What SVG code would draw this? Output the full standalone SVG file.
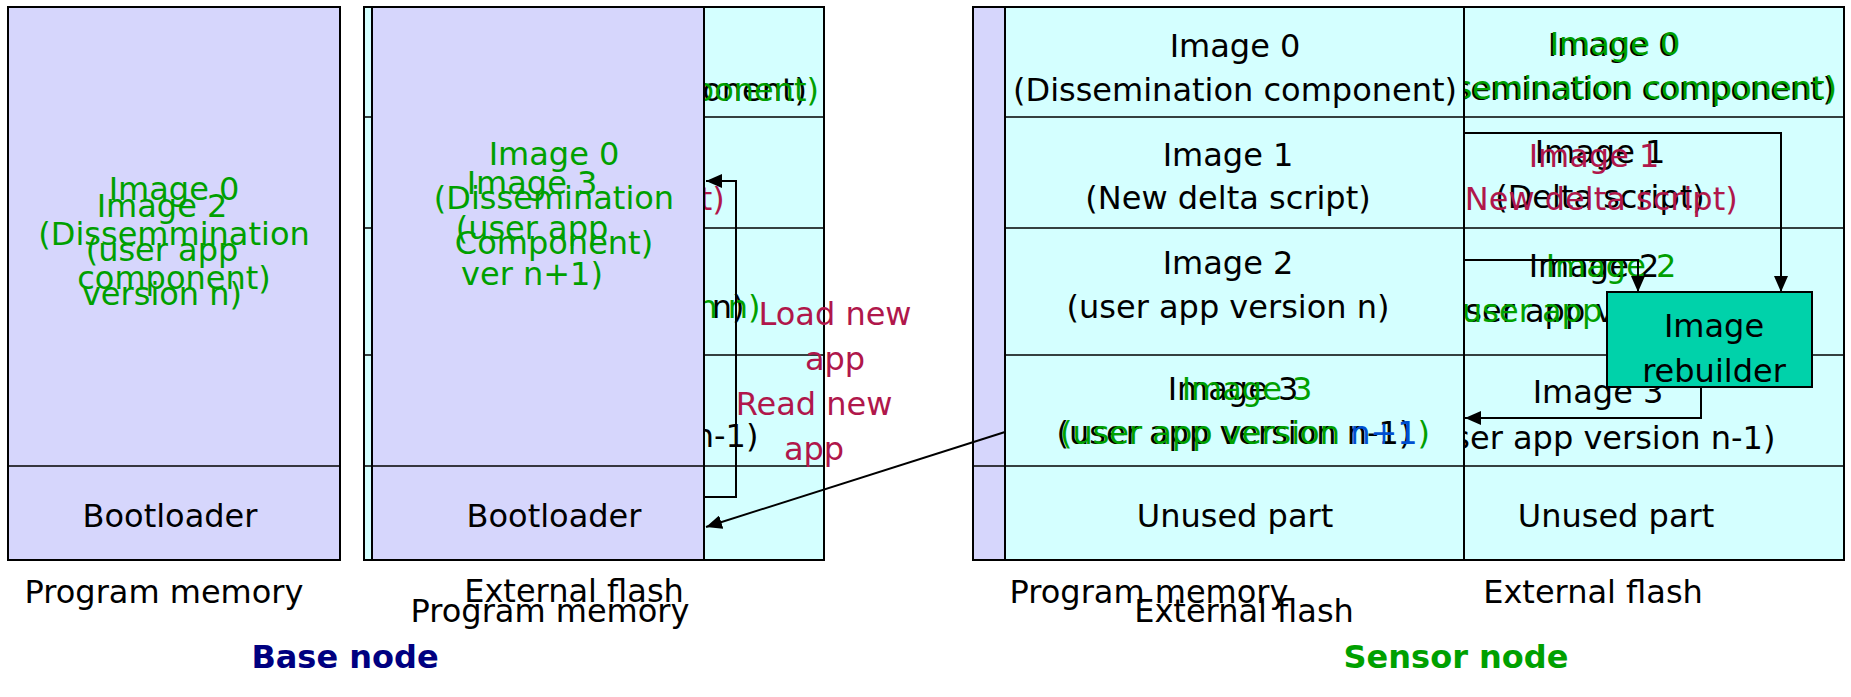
<svg xmlns="http://www.w3.org/2000/svg" width="1851" height="697" viewBox="0 0 1851 697">
  <style>
    text { font-family: "DejaVu Sans", Verdana, sans-serif; font-size: 32px; text-anchor: middle; }
    .k { fill: #000000; }
    .g { fill: #00A000; }
    .r { fill: #B0174B; }
    .b { fill: #0050D0; }
    .lav { fill: #D6D6FC; stroke: #000000; stroke-width: 2; }
    .cy { fill: #D4FFFF; stroke: #000000; stroke-width: 2; }
    .row { stroke: #000000; stroke-width: 1.5; fill: none; }
    .conn { stroke: #000000; stroke-width: 2; fill: none; }
    .title { font-weight: bold; }
  </style>
  <defs>
    <marker id="arrow" viewBox="0 0 16 14" refX="16" refY="7" markerWidth="16" markerHeight="14" markerUnits="userSpaceOnUse" orient="auto">
      <path d="M0,0 L16,7 L0,14 z" fill="#000000"/>
    </marker>
    <!-- slot texts of the base external flash stay inside its column -->
    <clipPath id="base-flash-clip">
      <rect x="373" y="7" width="451" height="553"/>
    </clipPath>
  </defs>

  <rect width="1851" height="697" fill="#FFFFFF"/>

  <!-- Base node: program memory -->
  <g id="base-program-memory">
    <rect class="lav" x="8" y="7" width="332" height="553"/>
    <line class="row" x1="8" y1="466" x2="340" y2="466"/>
    <text class="g" x="174" y="200">Image 0</text>
    <text class="g" x="174" y="245">(Dissemmination</text>
    <text class="g" x="174" y="289">component)</text>
    <text class="g" x="162" y="217">Image 2</text>
    <text class="g" x="162" y="261">(user app</text>
    <text class="g" x="162" y="305">version n)</text>
    <text class="k" x="170" y="527">Bootloader</text>
  </g>

  <!-- Base node: external flash (image slots behind the loaded program memory) -->
  <g id="base-external-flash">
    <rect class="cy" x="364" y="7" width="460" height="553"/>
    <line class="row" x1="364" y1="117" x2="824" y2="117"/>
    <line class="row" x1="364" y1="228" x2="824" y2="228"/>
    <line class="row" x1="364" y1="355" x2="824" y2="355"/>
    <g clip-path="url(#base-flash-clip)">
      <text class="k" x="585" y="101">(Dissemination component)</text>
      <text class="g" x="597" y="101">(Dissemination component)</text>
      <text class="r" x="582" y="210">(New delta script)</text>
      <text class="k" x="583" y="318">(user app version n)</text>
      <text class="g" x="599" y="318">(user app version n)</text>
      <text class="k" x="581" y="447">(user app version n-1)</text>
    </g>
  </g>

  <g id="base-program-memory-copy">
    <rect class="lav" x="372" y="7" width="332" height="553"/>
    <text class="g" x="554" y="165">Image 0</text>
    <text class="g" x="554" y="209">(Dissemination</text>
    <text class="g" x="554" y="254">Component)</text>
    <text class="g" x="532" y="194">Image 3</text>
    <text class="g" x="532" y="239">(user app</text>
    <text class="g" x="532" y="285">ver n+1)</text>
    <line class="row" x1="364" y1="466" x2="824" y2="466"/>
    <text class="k" x="554" y="527">Bootloader</text>
  </g>

  <!-- Sensor node -->
  <g id="sensor-node-frame">
    <rect class="lav" x="973" y="7" width="871" height="553"/>
  </g>

  <g id="sensor-external-flash">
    <rect class="cy" x="1464" y="7" width="380" height="553"/>
    <line class="row" x1="1464" y1="117" x2="1844" y2="117"/>
    <line class="row" x1="1464" y1="228" x2="1844" y2="228"/>
    <line class="row" x1="1464" y1="355" x2="1844" y2="355"/>
    <line class="row" x1="1464" y1="466" x2="1844" y2="466"/>
    <text class="k" x="1613" y="56">Image 0</text>
    <text class="k" x="1613" y="100">(Dissemination component)</text>
    <text class="g" x="1615" y="55">Image 0</text>
    <text class="g" x="1615" y="99">(Dissemination component)</text>
    <text class="k" x="1600" y="163">Image 1</text>
    <text class="k" x="1600" y="208">(Delta script)</text>
    <text class="r" x="1594" y="167">Image 1</text>
    <text class="r" x="1595" y="210">(New delta script)</text>
    <text class="k" x="1594" y="277">Image 2</text>
    <text class="k" x="1594" y="322">(user app version n)</text>
    <text class="g" x="1611" y="277">Image 2</text>
    <text class="g" x="1611" y="322">(user app version n)</text>
    <text class="k" x="1598" y="403">Image 3</text>
    <text class="k" x="1598" y="449">(user app version n-1)</text>
    <text class="k" x="1616" y="527">Unused part</text>
  </g>

  <g id="sensor-program-memory">
    <rect class="cy" x="1005" y="7" width="459" height="553"/>
    <line class="row" x1="1005" y1="117" x2="1464" y2="117"/>
    <line class="row" x1="1005" y1="228" x2="1464" y2="228"/>
    <line class="row" x1="1005" y1="355" x2="1464" y2="355"/>
    <line class="row" x1="973" y1="466" x2="1464" y2="466"/>
    <text class="k" x="1235" y="57">Image 0</text>
    <text class="k" x="1235" y="101">(Dissemination component)</text>
    <text class="k" x="1228" y="166">Image 1</text>
    <text class="k" x="1228" y="209">(New delta script)</text>
    <text class="k" x="1228" y="274">Image 2</text>
    <text class="k" x="1228" y="318">(user app version n)</text>
    <text class="k" x="1233" y="400">Image 3</text>
    <text class="k" x="1234" y="444">(user app version n-1)</text>
    <text class="g" x="1247" y="400">Image 3</text>
    <text class="g" x="1245" y="444">(user app version <tspan class="b">n+1</tspan>)</text>
    <text class="k" x="1235" y="527">Unused part</text>
  </g>

  <!-- Connectors -->
  <g id="connectors">
    <path class="conn" d="M705,497 H736 V181 H706" marker-end="url(#arrow)"/>
    <path class="conn" d="M1005,432 L706,527" marker-end="url(#arrow)"/>
    <path class="conn" d="M1464,133 H1781 V292" marker-end="url(#arrow)"/>
    <path class="conn" d="M1464,260 H1638 V292" marker-end="url(#arrow)"/>
    <path class="conn" d="M1701,387 V418 H1465" marker-end="url(#arrow)"/>
  </g>

  <g id="image-rebuilder">
    <rect x="1607" y="292" width="205" height="95" fill="#00D2AA" stroke="#000000" stroke-width="2"/>
    <text class="k" x="1714" y="337">Image</text>
    <text class="k" x="1714" y="382">rebuilder</text>
  </g>

  <g id="labels">
    <text class="r" x="835" y="325">Load new</text>
    <text class="r" x="835" y="370">app</text>
    <text class="r" x="814" y="415">Read new</text>
    <text class="r" x="814" y="460">app</text>
    <text class="k" x="164" y="603">Program memory</text>
    <text class="k" x="574" y="602">External flash</text>
    <text class="k" x="550" y="622">Program memory</text>
    <text class="k" x="1149" y="603">Program memory</text>
    <text class="k" x="1244" y="622">External flash</text>
    <text class="k" x="1593" y="603">External flash</text>
    <text class="title" x="345" y="668" fill="#000080">Base node</text>
    <text class="title" x="1456" y="668" fill="#00A000">Sensor node</text>
  </g>
</svg>
